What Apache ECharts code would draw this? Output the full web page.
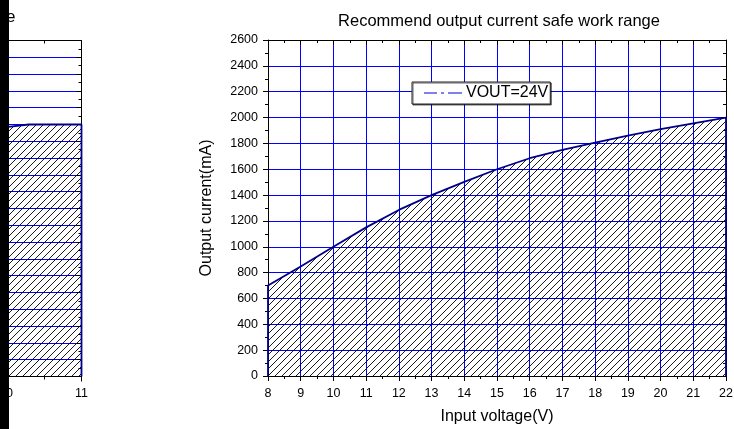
<!DOCTYPE html>
<html><head><meta charset="utf-8">
<script src="https://cdn.jsdelivr.net/npm/echarts@6/dist/echarts.min.js"></script>
<style>html,body{margin:0;padding:0;background:#fff}#c{width:734px;height:429px}</style>
</head><body><div id="c"></div>
<script>
// ---- data ----
const titleText = 'Recommend output current safe work range';
const seriesName = 'VOUT=24V';
const xName = 'Input voltage(V)';
const yName = 'Output current(mA)';
const inputVoltage = [8, 8, 9, 10, 11, 12, 13, 14, 15, 16, 17, 18, 19, 20, 21, 22, 22];
const outputCurrent = [0, 700, 848, 1000, 1150, 1285, 1400, 1502, 1600, 1685, 1750, 1805, 1860, 1910, 1955, 2000, 0];
// partially visible neighbouring chart on the left edge
const leftVoltage = [10, 10, 10.3, 11, 11];
const leftCurrent = [0, 1485, 1500, 1500, 0];

const FONT = 'Arial, "Liberation Sans", sans-serif';

function makeHatch() {
  const s = 7;
  const c = document.createElement('canvas');
  c.width = s; c.height = s;
  const g = c.getContext('2d');
  g.strokeStyle = '#000';
  g.lineWidth = 0.9;
  g.beginPath();
  g.moveTo(0, s); g.lineTo(s, 0);
  g.moveTo(-1, 1); g.lineTo(1, -1);
  g.moveTo(s - 1, s + 1); g.lineTo(s + 1, s - 1);
  g.stroke();
  return c;
}
const hatch = { image: makeHatch(), repeat: 'repeat' };

const mainData = inputVoltage.map((v, i) => [v, outputCurrent[i]]);
const leftData = leftVoltage.map((v, i) => [v, leftCurrent[i]]);

const plain = v => String(v);
function lbl(margin) { return { color: '#000', fontFamily: FONT, fontSize: 12.5, margin: margin, formatter: plain }; }
function blueGrid() { return { show: true, lineStyle: { color: '#0000ff', width: 1 } }; }
function blackLine() { return { show: true, onZero: false, lineStyle: { color: '#000', width: 1 } }; }

function xAx(grid, min, max, pos, labels, split) {
  return {
    type: 'value', gridIndex: grid, min: min, max: max, interval: 1, position: pos,
    axisLine: blackLine(),
    axisTick: { show: true, inside: !labels, length: 5, lineStyle: { color: '#000' } },
    minorTick: { show: true, splitNumber: 2, length: 3, lineStyle: { color: '#000' } },
    axisLabel: labels ? lbl(11) : { show: false },
    splitLine: split ? blueGrid() : { show: false }
  };
}
function yAx(grid, min, max, interval, pos, labels, split) {
  return {
    type: 'value', gridIndex: grid, min: min, max: max, interval: interval, position: pos,
    axisLine: blackLine(),
    axisTick: { show: true, inside: !labels, length: 5, lineStyle: { color: '#000' } },
    minorTick: { show: true, splitNumber: 2, length: 3, lineStyle: { color: '#000' } },
    axisLabel: labels ? lbl(10) : { show: false },
    splitLine: split ? blueGrid() : { show: false }
  };
}

const xMain = xAx(0, 8, 22, 'bottom', true, true);
xMain.name = xName; xMain.nameLocation = 'middle'; xMain.nameGap = 33;
xMain.nameTextStyle = { color: '#000', fontFamily: FONT, fontSize: 16 };
const yMain = yAx(0, 0, 2600, 200, 'left', true, true);
yMain.name = yName; yMain.nameLocation = 'middle'; yMain.nameGap = 53;
yMain.nameTextStyle = { color: '#000', fontFamily: FONT, fontSize: 16 };

const xLeft = xAx(1, 10, 11, 'bottom', true, true);
const yLeft = yAx(1, 0, 2000, 100, 'left', false, true);
yLeft.axisTick.inside = false;

const option = {
  animation: false,
  backgroundColor: '#fff',
  title: {
    text: titleText, left: 494, top: 8, textAlign: 'center',
    textStyle: { color: '#000', fontFamily: FONT, fontSize: 16.5, fontWeight: 'normal' }
  },
  legend: {
    left: 412, top: 82,
    backgroundColor: '#fff', borderColor: '#222', borderWidth: 1, borderRadius: 0,
    shadowColor: 'rgba(0,0,0,0.6)', shadowOffsetX: 1, shadowOffsetY: 1, shadowBlur: 0,
    padding: [3, 2, 3, 12], itemWidth: 38, itemHeight: 2, itemGap: 5,
    textStyle: { color: '#000', fontFamily: FONT, fontSize: 16, padding: [0, 0, 0, -1] },
    data: [{
      name: seriesName,
      icon: 'path://M0,0h13v1h-13zM17,0h3v1h-3zM24,0h14v1h-14z',
      itemStyle: { color: '#0000dd', borderWidth: 0 }
    }]
  },
  grid: [
    { left: 268, right: 8, top: 40, bottom: 53, outerBoundsMode: 'none', containLabel: false },
    { left: 6, right: 652.5, top: 40.5, bottom: 52.5, outerBoundsMode: 'none', containLabel: false }
  ],
  xAxis: [xMain, xAx(0, 8, 22, 'top', false, false), xLeft, xAx(1, 10, 11, 'top', false, false)],
  yAxis: [yMain, yAx(0, 0, 2600, 200, 'right', false, false), yLeft, yAx(1, 0, 2000, 100, 'right', false, false)],
  series: [
    {
      name: seriesName, type: 'line', xAxisIndex: 0, yAxisIndex: 0,
      data: mainData, symbol: 'none', smooth: false,
      lineStyle: { color: '#00008b', width: 1.8 },
      itemStyle: { color: '#0000dd' },
      areaStyle: { color: hatch, origin: 'start', opacity: 1 },
      z: 3
    },
    {
      name: 'left', type: 'line', xAxisIndex: 2, yAxisIndex: 2,
      data: leftData, symbol: 'none',
      lineStyle: { color: '#00008b', width: 1.8 },
      areaStyle: { color: hatch, origin: 'start', opacity: 1 },
      z: 3
    }
  ],
  graphic: [
    {
      type: 'text', x: 15.5, y: 17, z: 10,
      style: { text: titleText, fill: '#000', font: '16.5px ' + FONT, textAlign: 'right', textVerticalAlign: 'middle' }
    },
    { type: 'rect', x: 0, y: 0, z: 100, shape: { x: 0, y: 0, width: 9, height: 429 }, style: { fill: '#000' } }
  ]
};
const chart = echarts.init(document.getElementById('c'), null, { renderer: 'canvas' });
chart.setOption(option);
</script>
</body></html>
